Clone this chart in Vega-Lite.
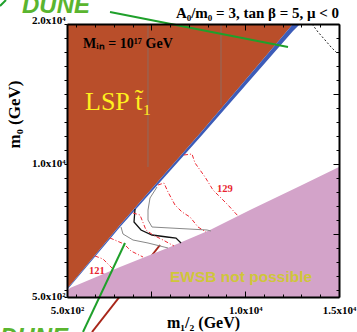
{
  "$schema": "https://vega.github.io/schema/vega-lite/v6.json",
  "width": 272,
  "height": 273,
  "autosize": "none",
  "padding": {"left": 67, "top": 24, "right": 18, "bottom": 35},
  "background": "white",
  "config": {"view": {"stroke": null}, "axis": {"grid": false}},
  "datasets": {
    "lsp": [{"x": 500, "y": 1071, "y2": 20000}, {"x": 3325, "y": 5643, "y2": 20000}, {"x": 7750, "y": 12429, "y2": 20000}, {"x": 12548, "y": 20000, "y2": 20000}],
    "band": [{"x": 500, "lo": 1000, "hi": 1071}, {"x": 3325, "lo": 5500, "hi": 5643}, {"x": 7750, "lo": 12150, "hi": 12429}, {"x": 12548, "lo": 19500, "hi": 20000}, {"x": 12921, "lo": 20000, "hi": 20000}],
    "ewsb": [{"x": 500, "y": 929}, {"x": 660, "y": 1143}, {"x": 3325, "y": 2643}, {"x": 5991, "y": 4071}, {"x": 8123, "y": 5286}, {"x": 10256, "y": 6714}, {"x": 12921, "y": 8429}, {"x": 15000, "y": 9786}],
    "redc": [
      {"c": "129", "o": 1, "x": 6737, "y": 10643}, {"c": "129", "o": 2, "x": 7164, "y": 10714}, {"c": "129", "o": 3, "x": 7324, "y": 10072}, {"c": "129", "o": 4, "x": 7857, "y": 9072}, {"c": "129", "o": 5, "x": 8283, "y": 8143}, {"c": "129", "o": 6, "x": 8657, "y": 7643}, {"c": "129", "o": 7, "x": 9083, "y": 7072}, {"c": "129", "o": 8, "x": 9616, "y": 6286},
      {"c": "B", "o": 1, "x": 5351, "y": 8500}, {"c": "B", "o": 2, "x": 5671, "y": 8643}, {"c": "B", "o": 3, "x": 5884, "y": 8000}, {"c": "B", "o": 4, "x": 6257, "y": 7072}, {"c": "B", "o": 5, "x": 6631, "y": 6572}, {"c": "B", "o": 6, "x": 7057, "y": 6214}, {"c": "B", "o": 7, "x": 7484, "y": 5500}, {"c": "B", "o": 8, "x": 7910, "y": 5143},
      {"c": "C", "o": 1, "x": 4018, "y": 6500}, {"c": "C", "o": 2, "x": 4392, "y": 6357}, {"c": "C", "o": 3, "x": 4711, "y": 5286}, {"c": "C", "o": 4, "x": 5085, "y": 4929}, {"c": "C", "o": 5, "x": 5618, "y": 4571}, {"c": "C", "o": 6, "x": 6204, "y": 4143},
      {"c": "D", "o": 1, "x": 2792, "y": 4714}, {"c": "D", "o": 2, "x": 3539, "y": 4286}, {"c": "D", "o": 3, "x": 3912, "y": 3786}, {"c": "D", "o": 4, "x": 4552, "y": 3357},
      {"c": "121", "o": 1, "x": 1993, "y": 3429}, {"c": "121", "o": 2, "x": 2419, "y": 3214}, {"c": "121", "o": 3, "x": 2792, "y": 2714}, {"c": "121", "o": 4, "x": 3006, "y": 2429}
    ],
    "grayc": [
      {"c": "g1", "o": 1, "x": 5298, "y": 8357}, {"c": "g1", "o": 2, "x": 4925, "y": 7571}, {"c": "g1", "o": 3, "x": 4818, "y": 6714}, {"c": "g1", "o": 4, "x": 4818, "y": 6000}, {"c": "g1", "o": 5, "x": 5031, "y": 5500}, {"c": "g1", "o": 6, "x": 5991, "y": 5429}, {"c": "g1", "o": 7, "x": 7963, "y": 5286}, {"c": "g1", "o": 8, "x": 8177, "y": 5214},
      {"c": "g2", "o": 1, "x": 3379, "y": 5500}, {"c": "g2", "o": 2, "x": 3485, "y": 5000}, {"c": "g2", "o": 3, "x": 4018, "y": 4571}, {"c": "g2", "o": 4, "x": 4818, "y": 4357}, {"c": "g2", "o": 5, "x": 5458, "y": 4143}, {"c": "g2", "o": 6, "x": 5884, "y": 4000}
    ],
    "blackc": [
      {"o": 1, "x": 4125, "y": 6786}, {"o": 2, "x": 4072, "y": 5857}, {"o": 3, "x": 4445, "y": 5286}, {"o": 4, "x": 5031, "y": 4929}, {"o": 5, "x": 5831, "y": 4786}, {"o": 6, "x": 6311, "y": 4714}, {"o": 7, "x": 6577, "y": 4357}
    ],
    "dotted": [{"o": 1, "x": 13561, "y": 20000}, {"o": 2, "x": 13881, "y": 19429}, {"o": 3, "x": 14254, "y": 18857}, {"o": 4, "x": 14574, "y": 18357}, {"o": 5, "x": 14947, "y": 17857}],
    "green": [
      {"c": "top", "o": 1, "x": 2792, "y": 20857}, {"c": "top", "o": 2, "x": 12282, "y": 18357},
      {"c": "slash", "o": 1, "x": -3072, "y": 21286}, {"c": "slash", "o": 2, "x": -2752, "y": 21714},
      {"c": "bottom", "o": 1, "x": 1353, "y": -2000}, {"c": "bottom", "o": 2, "x": 3592, "y": 4357}
    ],
    "redline": [{"o": 1, "x": 1833, "y": -2000}, {"o": 2, "x": 5458, "y": 4214}],
    "streaks": [{"x": 4818, "y": 9786, "y2": 20000}, {"x": 8710, "y": 14214, "y2": 20000}]
  },
  "resolve": {"axis": {"x": "independent", "y": "independent"}},
  "layer": [
    {
      "data": {"name": "lsp"},
      "mark": {"type": "area", "color": "#b94e2a"},
      "encoding": {
        "x": {"field": "x", "type": "quantitative", "scale": {"domain": [500, 15000], "zero": false, "nice": false},
          "axis": {"orient": "bottom", "values": [500, 1000, 2000, 3000, 4000, 5000, 6000, 7000, 8000, 9000, 10000, 11000, 12000, 13000, 14000, 15000],
            "labelExpr": "datum.value == 500 ? '5.0x10²' : datum.value == 10000 ? '1.0x10⁴' : datum.value == 15000 ? '1.5x10⁴' : ''",
            "labelOverlap": false, "labelFlush": false, "labelBound": false,
            "tickSize": {"condition": {"test": "datum.value % 5000 == 0 || datum.value == 500", "value": -6}, "value": -3},
            "labelPadding": 13, "tickColor": "black", "tickWidth": 1, "domainColor": "black", "domainWidth": 2,
            "labelFont": "Liberation Serif", "labelFontSize": 11, "labelFontWeight": "bold", "labelColor": "black",
            "title": "m₁/₂ (GeV)", "titleFont": "Liberation Serif", "titleFontSize": 16, "titleFontWeight": "bold", "titleColor": "black",
            "titleY": 30, "titleBaseline": "alphabetic", "zindex": 1}},
        "y": {"field": "y", "type": "quantitative", "scale": {"domain": [500, 20000], "zero": false, "nice": false},
          "axis": {"orient": "left", "values": [500, 1000, 2000, 3000, 4000, 5000, 6000, 7000, 8000, 9000, 10000, 11000, 12000, 13000, 14000, 15000, 16000, 17000, 18000, 19000, 20000],
            "labelExpr": "datum.value == 500 ? '5.0x10²' : datum.value == 10000 ? '1.0x10⁴' : datum.value == 20000 ? '2.0x10⁴' : ''",
            "labelOverlap": false, "labelFlush": false, "labelBound": false,
            "tickSize": 3, "labelPadding": -1,
            "labelOffset": {"condition": {"test": "datum.value == 20000", "value": -4}, "value": -1},
            "tickColor": "black", "tickWidth": 1, "domainColor": "black", "domainWidth": 2,
            "labelFont": "Liberation Serif", "labelFontSize": 11, "labelFontWeight": "bold", "labelColor": "black",
            "title": "m₀ (GeV)", "titleFont": "Liberation Serif", "titleFontSize": 17, "titleFontWeight": "bold", "titleColor": "black",
            "titleX": -48, "titleY": 90, "titleBaseline": "alphabetic", "zindex": 1}},
        "y2": {"field": "y2"}
      }
    },
    {
      "data": {"name": "streaks"},
      "mark": {"type": "rule", "color": "#8f6a60", "strokeWidth": 1},
      "encoding": {"x": {"field": "x", "type": "quantitative", "axis": null}, "y": {"field": "y", "type": "quantitative", "axis": null}, "y2": {"field": "y2"}}
    },
    {
      "data": {"name": "band"},
      "mark": {"type": "area", "color": "#3d5cb8"},
      "encoding": {"x": {"field": "x", "type": "quantitative", "axis": null}, "y": {"field": "lo", "type": "quantitative", "axis": null}, "y2": {"field": "hi"}}
    },
    {
      "data": {"name": "redline"},
      "mark": {"type": "line", "color": "#a8261a", "strokeWidth": 2},
      "encoding": {"x": {"field": "x", "type": "quantitative", "axis": null}, "y": {"field": "y", "type": "quantitative", "axis": null}, "order": {"field": "o"}}
    },
    {
      "data": {"name": "ewsb"},
      "mark": {"type": "area", "color": "#d3a3c9"},
      "encoding": {
        "x": {"field": "x", "type": "quantitative",
          "axis": {"orient": "top", "values": [1000, 2000, 3000, 4000, 5000, 6000, 7000, 8000, 9000, 10000, 11000, 12000, 13000, 14000, 15000],
            "labels": false, "title": null,
            "tickSize": {"condition": {"test": "datum.value % 5000 == 0", "value": -6}, "value": -3},
            "tickColor": "black", "domainColor": "black", "domainWidth": 2, "zindex": 1}},
        "y": {"field": "y", "type": "quantitative",
          "axis": {"orient": "right", "values": [1000, 2000, 3000, 4000, 5000, 6000, 7000, 8000, 9000, 10000, 11000, 12000, 13000, 14000, 15000, 16000, 17000, 18000, 19000, 20000],
            "labels": false, "title": null,
            "tickSize": {"condition": {"test": "datum.value % 5000 == 0", "value": -6}, "value": -3},
            "tickColor": "black", "domainColor": "black", "domainWidth": 2, "zindex": 1}},
        "y2": {"datum": 500}
      }
    },
    {
      "data": {"name": "grayc"},
      "mark": {"type": "line", "color": "#888888", "strokeWidth": 1},
      "encoding": {"x": {"field": "x", "type": "quantitative", "axis": null}, "y": {"field": "y", "type": "quantitative", "axis": null}, "detail": {"field": "c"}, "order": {"field": "o"}}
    },
    {
      "data": {"name": "blackc"},
      "mark": {"type": "line", "color": "#111111", "strokeWidth": 1.3},
      "encoding": {"x": {"field": "x", "type": "quantitative", "axis": null}, "y": {"field": "y", "type": "quantitative", "axis": null}, "order": {"field": "o"}}
    },
    {
      "data": {"name": "redc"},
      "mark": {"type": "line", "color": "#ee2a35", "strokeWidth": 1, "strokeDash": [4, 2, 1, 2]},
      "encoding": {"x": {"field": "x", "type": "quantitative", "axis": null}, "y": {"field": "y", "type": "quantitative", "axis": null}, "detail": {"field": "c"}, "order": {"field": "o"}}
    },
    {
      "data": {"name": "dotted"},
      "mark": {"type": "line", "color": "#222222", "strokeWidth": 1, "strokeDash": [2, 2]},
      "encoding": {"x": {"field": "x", "type": "quantitative", "axis": null}, "y": {"field": "y", "type": "quantitative", "axis": null}, "order": {"field": "o"}}
    },
    {
      "data": {"name": "green"},
      "mark": {"type": "line", "color": "#1fa02b", "strokeWidth": 2},
      "encoding": {"x": {"field": "x", "type": "quantitative", "axis": null}, "y": {"field": "y", "type": "quantitative", "axis": null}, "detail": {"field": "c"}, "order": {"field": "o"}}
    },
    {
      "data": {"values": [{"x": 15000, "y": 20429, "t": "A₀/m₀ = 3, tan β = 5, μ < 0"}]},
      "mark": {"type": "text", "align": "right", "baseline": "alphabetic", "font": "Liberation Serif", "fontSize": 15, "fontWeight": "bold", "color": "black"},
      "encoding": {"x": {"field": "x", "type": "quantitative", "axis": null}, "y": {"field": "y", "type": "quantitative", "axis": null}, "text": {"field": "t"}}
    },
    {
      "data": {"values": [{"x": 1353, "y": 18286, "t": "Mᵢₙ = 10¹⁷ GeV"}]},
      "mark": {"type": "text", "align": "left", "baseline": "alphabetic", "font": "Liberation Serif", "fontSize": 14, "fontWeight": "bold", "color": "black"},
      "encoding": {"x": {"field": "x", "type": "quantitative", "axis": null}, "y": {"field": "y", "type": "quantitative", "axis": null}, "text": {"field": "t"}}
    },
    {
      "data": {"values": [{"x": 1460, "y": 13857, "t": "LSP t̃₁"}]},
      "mark": {"type": "text", "align": "left", "baseline": "alphabetic", "font": "Liberation Serif", "fontSize": 26, "color": "#fff01e"},
      "encoding": {"x": {"field": "x", "type": "quantitative", "axis": null}, "y": {"field": "y", "type": "quantitative", "axis": null}, "text": {"field": "t"}}
    },
    {
      "data": {"values": [{"x": 5991, "y": 1571, "t": "EWSB not possible"}]},
      "mark": {"type": "text", "align": "left", "baseline": "alphabetic", "font": "Liberation Sans", "fontSize": 15.5, "fontWeight": "bold", "color": "#cfc63a"},
      "encoding": {"x": {"field": "x", "type": "quantitative", "axis": null}, "y": {"field": "y", "type": "quantitative", "axis": null}, "text": {"field": "t"}}
    },
    {
      "data": {"values": [{"x": 1673, "y": 2143, "t": "121"}, {"x": 8497, "y": 8000, "t": "129"}]},
      "mark": {"type": "text", "align": "left", "baseline": "alphabetic", "font": "Liberation Serif", "fontSize": 10.5, "fontWeight": "bold", "color": "#e8242f"},
      "encoding": {"x": {"field": "x", "type": "quantitative", "axis": null}, "y": {"field": "y", "type": "quantitative", "axis": null}, "text": {"field": "t"}}
    },
    {
      "data": {"values": [{"x": -1899, "y": 20786, "t": "DUNE"}, {"x": -3072, "y": -2950, "t": "DUNE"}]},
      "mark": {"type": "text", "align": "left", "baseline": "alphabetic", "font": "Liberation Sans", "fontSize": 24, "fontWeight": "bold", "fontStyle": "italic", "color": "#5ab52f"},
      "encoding": {"x": {"field": "x", "type": "quantitative", "axis": null}, "y": {"field": "y", "type": "quantitative", "axis": null}, "text": {"field": "t"}}
    }
  ]
}
